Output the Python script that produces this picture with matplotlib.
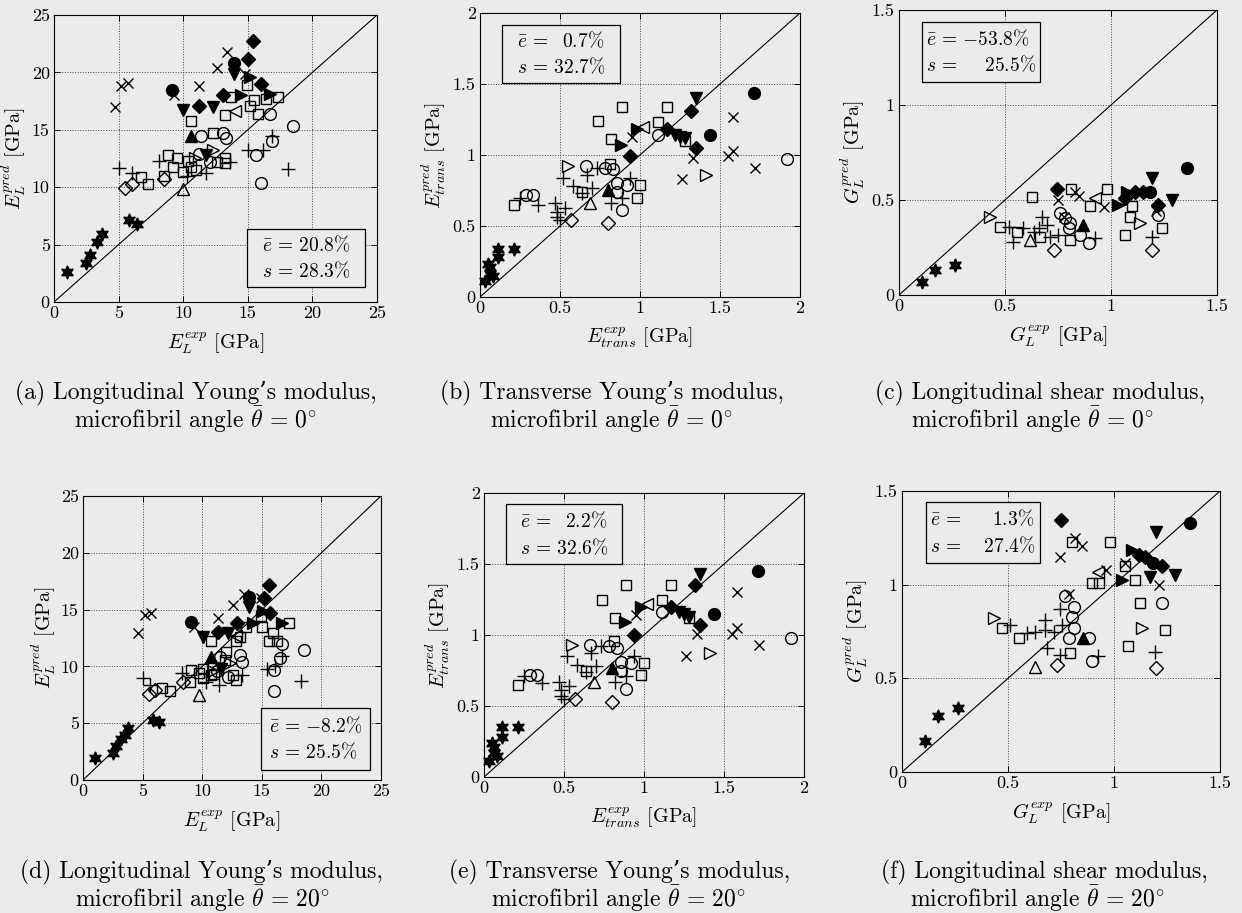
import matplotlib
matplotlib.use("Agg")
import matplotlib.pyplot as plt
from matplotlib.patches import Rectangle

plt.rcParams['font.family'] = ['cmr10', 'DejaVu Serif']
plt.rcParams['mathtext.fontset'] = 'cm'
plt.rcParams['axes.unicode_minus'] = False
plt.rcParams['axes.formatter.use_mathtext'] = True

PAPER = '#ecebea'

# marker codes: h star, x cross, D filled diamond, O filled circle, v filled down-triangle,
# R filled right-triangle, A filled up-triangle, s open square, L open left-triangle,
# o open circle, + plus, d open diamond, t open up-triangle, r open right-triangle

# (a) longitudinal Young's modulus, 0 deg
A_M = ("hhhhhhh" "xxxxxxxx" "DDDDD" "OO" "vvvv" "RRR" "A" "sssssssssssssssssssssss"
       "L" "oooooooooo" "++++++++++" "ddd" "t" "rr")
A_X = [1.0, 2.5, 2.8, 3.3, 3.7, 5.8, 6.4,
       4.7, 5.2, 5.7, 9.3, 11.2, 12.6, 13.4, 14.8,
       15.4, 15.0, 16.0, 13.1, 11.2,
       9.1, 13.9,
       13.9, 10.0, 12.3, 11.8,
       15.2, 14.5, 16.7,
       10.6,
       14.9, 13.7, 15.5, 16.4, 17.3, 10.6, 13.2, 15.2, 15.8, 12.3, 8.8, 9.5, 9.2, 8.5, 10.0,
       10.6, 10.4, 13.2, 13.2, 6.7, 7.3, 11.0, 12.6,
       14.0,
       16.7, 18.5, 11.4, 13.1, 13.3, 16.9, 15.6, 16.0, 11.2, 12.1,
       8.1, 5.0, 6.0, 11.8, 13.6, 15.0, 16.2, 16.9, 18.1, 10.3,
       5.5, 6.0, 8.5,
       10.0,
       10.9, 12.3]
A_Y = [2.6, 3.4, 4.1, 5.2, 5.9, 7.1, 6.8,
       17.0, 18.8, 19.1, 18.0, 18.8, 20.4, 21.8, 19.9,
       22.7, 21.2, 19.0, 18.0, 17.1,
       18.5, 20.8,
       19.9, 16.7, 17.0, 12.8,
       19.6, 18.0, 18.1,
       14.5,
       18.9, 17.9, 17.6, 17.7, 17.9, 15.8, 16.3, 17.1, 16.4, 14.7, 12.8, 12.5, 11.8, 11.0, 11.3,
       11.8, 12.3, 12.5, 12.1, 10.9, 10.3, 11.5, 12.2,
       16.6,
       16.4, 15.3, 14.5, 14.7, 14.3, 14.0, 12.8, 10.4, 12.9, 12.2,
       12.3, 11.7, 11.2, 11.2, 12.2, 13.2, 13.2, 14.5, 11.6, 11.0,
       9.9, 10.3, 10.7,
       9.8,
       12.5, 13.2]

# (d) longitudinal Young's modulus, 20 deg
D_M = ("hhhhhhhh" "xxxxxxxx" "DDDDD" "OO" "vvvv" "RRR" "A" "sssssssssssssssssssssss"
       "L" "oooooooooo" "++++++++++" "ddd" "t" "rr")
D_X = [1.0, 2.5, 2.8, 3.2, 3.5, 3.8, 5.9, 6.4,
       4.6, 5.2, 5.7, 11.3, 12.6, 13.5, 14.9, 9.3,
       15.6, 15.2, 15.7, 12.95, 11.3,
       9.1, 13.9,
       13.9, 10.1, 12.2, 11.6,
       15.1, 14.3, 16.7,
       10.7,
       15.0, 15.9, 16.3, 15.6, 17.3, 10.7, 13.2, 12.8, 12.0, 11.9, 9.1, 9.7, 9.0, 10.1, 10.7,
       10.1, 12.6, 12.8, 6.6, 7.3, 11.0, 13.7, 14.9,
       12.8,
       16.7, 18.5, 11.5, 13.2, 13.3, 16.5, 16.0, 16.0, 11.2, 12.2,
       8.3, 5.0, 5.6, 11.4, 13.3, 15.4, 16.1, 16.7, 18.3, 10.3,
       5.5, 6.0, 8.4,
       9.7,
       10.9, 12.3]
D_Y = [1.9, 2.4, 3.0, 3.6, 4.0, 4.6, 5.3, 5.1,
       12.9, 14.5, 14.7, 14.3, 15.4, 16.4, 16.0, 13.5,
       17.2, 16.0, 14.7, 13.8, 13.05,
       13.9, 16.1,
       15.2, 12.6, 12.9, 9.8,
       14.9, 13.8, 13.8,
       10.85,
       13.5, 12.9, 12.2, 12.2, 13.8, 12.2, 12.6, 12.2, 11.3, 10.6, 9.7, 9.4, 8.65, 8.95, 9.2,
       9.8, 9.2, 8.8, 8.1, 7.8, 9.3, 13.5, 14.4,
       12.7,
       12.0, 11.4, 10.85, 11.0, 10.4, 10.7, 9.7, 7.8, 9.6, 9.1,
       9.4, 9.0, 8.4, 8.4, 9.2, 9.8, 10.0, 10.9, 8.7, 8.6,
       7.6, 7.9, 8.65,
       7.5,
       9.6, 10.3]

# (b) transverse Young's modulus, 0 deg
B_M = ("hhhhhhhh" "xxxxxxx" "DDDD" "OO" "vvvv" "RR" "A" "sssssssssss"
       "L" "ooooooooooo" "++++++++++++++++" "dd" "t" "rr")
B_X = [0.03, 0.06, 0.05, 0.11, 0.11, 0.21, 0.06, 0.08,
       1.58, 0.95, 1.33, 1.55, 1.58, 1.72, 1.26,
       1.32, 1.17, 1.35, 0.94,
       1.71, 1.44,
       1.35, 1.22, 1.28, 1.25,
       0.98, 0.88,
       0.80,
       0.89, 1.17, 0.74, 1.115, 1.28, 0.82, 0.81, 0.64, 1.0, 0.98, 0.21,
       1.02,
       1.115, 1.92, 0.665, 0.78, 0.83, 0.855, 0.92, 0.855, 0.89, 0.29, 0.33,
       0.67, 0.73, 0.52, 0.58, 0.70, 0.64, 0.94, 0.82, 0.89, 0.47, 0.48, 0.48, 0.53, 0.50,
       0.25, 0.365,
       0.80, 0.57,
       0.69,
       0.55, 1.41]
B_Y = [0.11, 0.165, 0.235, 0.28, 0.34, 0.34, 0.21, 0.15,
       1.27, 1.13, 0.98, 0.99, 1.03, 0.91, 0.83,
       1.31, 1.18, 1.05, 0.99,
       1.44, 1.14,
       1.40, 1.14, 1.12, 1.13,
       1.18, 1.07,
       0.755,
       1.34, 1.34, 1.24, 1.23, 1.10, 1.11, 0.94, 0.74, 0.79, 0.70, 0.65,
       1.20,
       1.14, 0.97, 0.92, 0.91, 0.90, 0.80, 0.79, 0.74, 0.61, 0.72, 0.72,
       0.86, 0.91, 0.84, 0.78, 0.77, 0.73, 0.84, 0.66, 0.70, 0.66, 0.60, 0.56, 0.63, 0.54,
       0.70, 0.65,
       0.52, 0.54,
       0.66,
       0.92, 0.86]

# (e) transverse Young's modulus, 20 deg (same specimens as (b))
E_M = B_M
E_X = B_X
E_Y = [0.11, 0.17, 0.24, 0.28, 0.35, 0.35, 0.21, 0.15,
       1.30, 1.14, 1.01, 1.01, 1.05, 0.93, 0.85,
       1.35, 1.20, 1.07, 1.00,
       1.45, 1.15,
       1.43, 1.16, 1.13, 1.15,
       1.20, 1.09,
       0.77,
       1.35, 1.35, 1.25, 1.25, 1.12, 1.12, 0.96, 0.75, 0.80, 0.72, 0.65,
       1.22,
       1.16, 0.98, 0.93, 0.92, 0.91, 0.81, 0.80, 0.75, 0.62, 0.72, 0.72,
       0.87, 0.92, 0.85, 0.79, 0.78, 0.74, 0.85, 0.67, 0.71, 0.67, 0.61, 0.57, 0.64, 0.55,
       0.71, 0.66,
       0.53, 0.55,
       0.67,
       0.93, 0.87]

# (c) longitudinal shear modulus, 0 deg
C_M = ("hhh" "xxxxxx" "DDDDD" "OO" "vv" "RR" "A" "ssssssssssss"
       "L" "ooooooo" "+++++++++++" "dd" "t" "rr")
C_X = [0.107, 0.17, 0.264,
       0.83, 0.847, 0.752, 0.965, 1.21, 0.78,
       0.745, 1.114, 1.153, 1.224, 1.067,
       1.358, 1.185,
       1.193, 1.287,
       1.035, 1.075,
       0.87,
       0.81, 0.98, 0.627, 0.90, 1.10, 1.09, 1.24, 1.067, 0.477, 0.556, 0.666, 0.807,
       0.925,
       0.76, 0.784, 0.807, 0.80, 0.855, 0.894, 1.224,
       0.517, 0.54, 0.587, 0.635, 0.674, 0.697, 0.713, 0.752, 0.925, 1.193, 0.66,
       0.73, 1.193,
       0.618,
       0.43, 1.138]
C_Y = [0.07, 0.132, 0.158,
       0.54, 0.52, 0.50, 0.465, 0.44, 0.41,
       0.56, 0.544, 0.544, 0.474, 0.51,
       0.667, 0.544,
       0.614, 0.50,
       0.474, 0.544,
       0.368,
       0.56, 0.56, 0.517, 0.47, 0.47, 0.41, 0.354, 0.316, 0.359, 0.333, 0.307, 0.29,
       0.51,
       0.43, 0.403, 0.377, 0.35, 0.316, 0.272, 0.42,
       0.359, 0.28, 0.35, 0.333, 0.412, 0.368, 0.307, 0.316, 0.298, 0.307, 0.35,
       0.237, 0.237,
       0.29,
       0.412, 0.377]

# (f) longitudinal shear modulus, 20 deg
F_M = ("hhh" "xxxxxxx" "DDDD" "OO" "vvv" "RR" "A" "ssssssssssss"
       "L" "oooooooo" "++++++++++++" "dd" "t" "rr")
F_X = [0.11, 0.168, 0.262,
       0.817, 0.848, 0.746, 1.05, 0.96, 1.21, 0.79,
       0.75, 1.12, 1.146, 1.225,
       1.358, 1.185,
       1.2, 1.288, 1.17,
       1.084, 1.037,
       0.856,
       0.804, 0.982, 1.05, 1.1, 0.895, 0.927, 1.123, 1.24, 1.068, 0.471, 0.55, 0.793,
       0.926,
       0.77, 0.81, 0.81, 0.79, 0.88, 0.895, 1.225, 0.80,
       0.51, 0.589, 0.628, 0.675, 0.675, 0.715, 0.683, 0.746, 0.754, 0.926, 1.194, 0.746,
       0.73, 1.2,
       0.628,
       0.432, 1.131]
F_Y = [0.163, 0.297, 0.341,
       1.248, 1.204, 1.15, 1.115, 1.08, 1.0, 0.95,
       1.346, 1.16, 1.15, 1.1,
       1.33, 1.115,
       1.283, 1.052, 1.043,
       1.186, 1.026,
       0.714,
       1.23, 1.23, 1.1, 1.026, 1.008, 1.008, 0.9, 0.76, 0.67, 0.77, 0.715, 0.634,
       1.07,
       0.937, 0.883, 0.77, 0.714, 0.714, 0.59, 0.9, 0.83,
       0.785, 0.74, 0.75, 0.758, 0.812, 0.75, 0.66, 0.625, 0.785, 0.617, 0.64, 0.87,
       0.572, 0.555,
       0.563,
       0.82, 0.768]

STYLE = {
    'h': dict(marker=(6, 1, 0), ms=9.5, mfc='k'),
    'x': dict(marker='x', ms=7.5, mfc='none'),
    'D': dict(marker='D', ms=7, mfc='k'),
    'O': dict(marker='o', ms=8.5, mfc='k'),
    'v': dict(marker='v', ms=9, mfc='k'),
    'R': dict(marker='>', ms=9, mfc='k'),
    'A': dict(marker='^', ms=9, mfc='k'),
    's': dict(marker='s', ms=7.5, mfc='none'),
    'L': dict(marker='<', ms=9, mfc='none'),
    'o': dict(marker='o', ms=8.5, mfc='none'),
    '+': dict(marker='+', ms=9.5, mfc='none'),
    'd': dict(marker='D', ms=7, mfc='none'),
    't': dict(marker='^', ms=9, mfc='none'),
    'r': dict(marker='>', ms=9, mfc='none'),
}

W, H = 1242, 913
fig = plt.figure(figsize=(W / 100, H / 100), dpi=100, facecolor=PAPER)


def px_rect(left, top, right, bottom):
    return [left / W, 1 - bottom / H, (right - left) / W, (bottom - top) / H]


def panel(rect, xs, ys, codes, top, step, xlab, ylab, ylab_x, box, lines):
    assert len(xs) == len(ys) == len(codes)
    ax = fig.add_axes(rect)
    ax.set_facecolor(PAPER)
    ax.plot([0, top], [0, top], color='k', lw=0.8, zorder=2)
    for code, st in STYLE.items():
        px = [x for x, c in zip(xs, codes) if c == code]
        py = [y for y, c in zip(ys, codes) if c == code]
        if px:
            ax.plot(px, py, ls='none', mec='k', mew=1.0, zorder=3, clip_on=False, **st)
    ax.set_xlim(0, top)
    ax.set_ylim(0, top)
    n = int(round(top / step))
    ticks = [i * step for i in range(n + 1)]
    labels = [f"{t:g}" for t in ticks]
    ax.set_xticks(ticks)
    ax.set_yticks(ticks)
    ax.set_xticklabels(labels)
    ax.set_yticklabels(labels)
    ax.tick_params(direction='in', top=True, right=True, length=4, width=0.7,
                   labelsize=13, pad=3)
    ax.grid(True, ls=':', color='#444444', lw=0.7)
    for sp in ax.spines.values():
        sp.set_linewidth(0.8)
    ax.set_xlabel(xlab, fontsize=14.5)
    ax.set_ylabel(ylab, fontsize=14.5)
    ax.xaxis.set_label_coords(0.5, -0.1)
    ax.yaxis.set_label_coords(ylab_x, 0.5)
    x0, x1, y0, y1 = box
    ax.add_patch(Rectangle((x0, y0), x1 - x0, y1 - y0, transform=ax.transAxes,
                           fill=True, fc=PAPER, ec='k', lw=0.9, zorder=4))
    ax.text((x0 + x1) / 2, (y0 + y1) / 2, "\n".join(lines), transform=ax.transAxes,
            ha='center', va='center', multialignment='left', fontsize=14,
            linespacing=1.35, zorder=5)
    return ax


def caption(cx1, cx2, y1, first, second):
    fig.text(cx1 / W, 1 - y1 / H, first, ha='center', va='baseline', fontsize=17)
    fig.text(cx2 / W, 1 - (y1 + 29) / H, second, ha='center', va='baseline', fontsize=17)


EL_X = r"$E_L^{exp}$ [GPa]"
EL_Y = r"$E_L^{pred}$ [GPa]"
ET_X = r"$E_{trans}^{exp}$ [GPa]"
ET_Y = r"$E_{trans}^{pred}$ [GPa]"
GL_X = r"$G_L^{exp}$ [GPa]"
GL_Y = r"$G_L^{pred}$ [GPa]"

panel(px_rect(54, 15, 377, 302), A_X, A_Y, A_M, 25, 5, EL_X, EL_Y, -0.08,
      (0.597, 0.964, 0.052, 0.256),
      [r"$\bar{e}\,=\,20.8\%$", r"$s\,=\,28.3\%$"])
panel(px_rect(480, 13, 800, 297), B_X, B_Y, B_M, 2, 0.5, ET_X, ET_Y, -0.10,
      (0.068, 0.437, 0.753, 0.959),
      [r"$\bar{e}\,=\,\enspace 0.7\%$", r"$s\,=\,32.7\%$"])
panel(px_rect(899, 10, 1217, 295), C_X, C_Y, C_M, 1.5, 0.5, GL_X, GL_Y, -0.10,
      (0.071, 0.444, 0.748, 0.959),
      [r"$\bar{e}\,=\,{-}53.8\%$", r"$s\,=\,\quad\; 25.5\%$"])
panel(px_rect(83, 496, 381, 780), D_X, D_Y, D_M, 25, 5, EL_X, EL_Y, -0.084,
      (0.598, 0.963, 0.035, 0.252),
      [r"$\bar{e}\,=\,{-}8.2\%$", r"$s\,=\,25.5\%$"])
panel(px_rect(484, 493, 804, 777), E_X, E_Y, E_M, 2, 0.5, ET_X, ET_Y, -0.10,
      (0.068, 0.432, 0.749, 0.960),
      [r"$\bar{e}\,=\,\enspace 2.2\%$", r"$s\,=\,32.6\%$"])
panel(px_rect(902, 491, 1220, 772), F_X, F_Y, F_M, 1.5, 0.5, GL_X, GL_Y, -0.10,
      (0.076, 0.434, 0.743, 0.962),
      [r"$\bar{e}\,=\,\quad\enspace 1.3\%$", r"$s\,=\,\quad 27.4\%$"])

caption(196, 196, 399, "(a) Longitudinal Young\u2019s modulus,",
        r"microfibril angle $\bar{\theta}\,=\,0^{\circ}$")
caption(612, 612, 399, "(b) Transverse Young\u2019s modulus,",
        r"microfibril angle $\bar{\theta}\,=\,0^{\circ}$")
caption(1040, 1033, 399, "(c) Longitudinal shear modulus,",
        r"microfibril angle $\bar{\theta}\,=\,0^{\circ}$")
caption(201, 202, 878, "(d) Longitudinal Young\u2019s modulus,",
        r"microfibril angle $\bar{\theta}\,=\,20^{\circ}$")
caption(620, 618, 878, "(e) Transverse Young\u2019s modulus,",
        r"microfibril angle $\bar{\theta}\,=\,20^{\circ}$")
caption(1044, 1037, 878, "(f) Longitudinal shear modulus,",
        r"microfibril angle $\bar{\theta}\,=\,20^{\circ}$")

fig.savefig("out.png", dpi=100, facecolor=PAPER)
